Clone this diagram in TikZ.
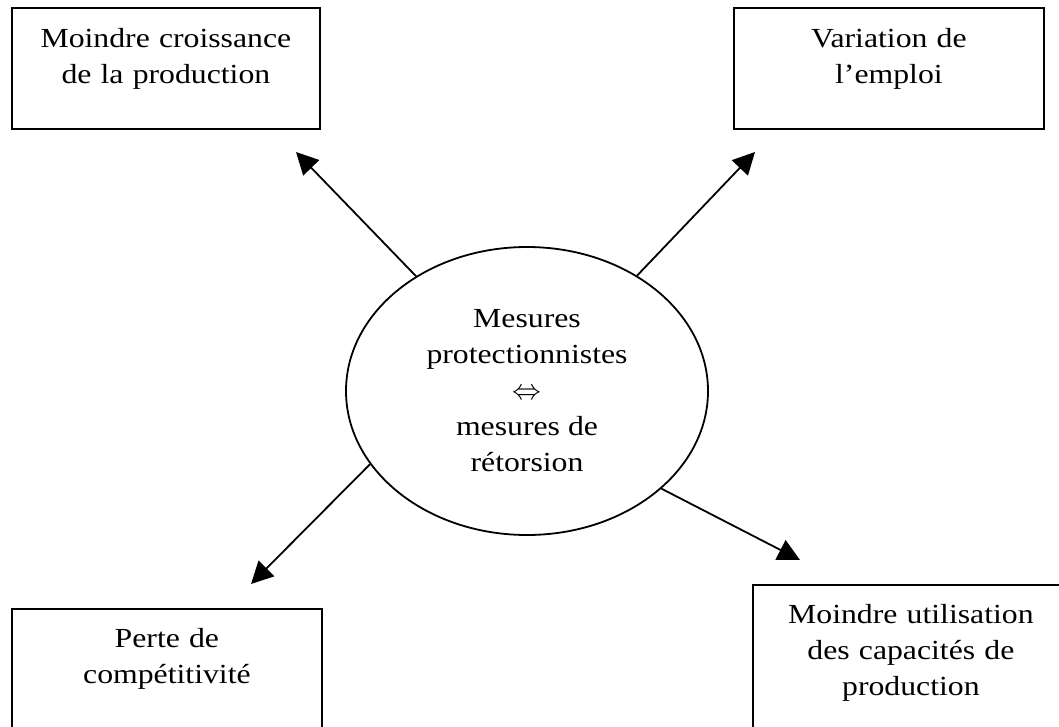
\documentclass[tikz,border=0pt]{standalone}
\usepackage{fontspec}
\setmainfont{Liberation Serif}[FakeStretch=1.15]
\usetikzlibrary{arrows.meta, shapes.geometric}

\tikzset{
  texte/.style={font=\fontsize{13.8pt}{18pt}\selectfont},
  boite/.style={texte, draw, line width=0.9pt, align=center, text width=155pt,
    inner sep=0pt, anchor=north west, text height=20pt, text depth=40.5pt},
  fleche/.style={line width=0.9pt, -{Triangle[length=11pt, width=11pt]}}
}

\begin{document}
\begin{tikzpicture}[x=0.5pt, y=-0.5pt]
  %tikz  mesures protectionnistes et leurs effets
    \useasboundingbox (0,0) rectangle (1059,727);
    \node[boite, text width=154pt] (prod) at (11,7) {Moindre croissance\\de la production};
    \node[boite] (emploi) at (733,7) {Variation de\\l’emploi};
    \node[boite, text height=19.5pt, text depth=80pt] (perte) at (11,608) {Perte de\\compétitivité};
    \node[boite, text width=158pt, text height=19.5pt, text depth=80pt] (util) at (752,584) {Moindre utilisation\\des capacités de\\production};
    \node[texte, draw, ellipse, line width=0.9pt, minimum width=181pt, minimum height=144pt,
      inner sep=0pt, align=center] (mes) at (527,391)
      {Mesures\\protectionnistes\\$\Leftrightarrow$\\mesures de\\rétorsion};
    \coordinate (tprod) at (296,152);
    \coordinate (temploi) at (755,152);
    \coordinate (tperte) at (251,584);
    \coordinate (tutil) at (800,560);
    \draw[fleche] (mes) -- (tprod);
    \draw[fleche] (mes) -- (temploi);
    \draw[fleche] (mes.205) -- (tperte);
    \draw[fleche] (mes.324) -- (tutil);
  \end{tikzpicture}
\end{document}
